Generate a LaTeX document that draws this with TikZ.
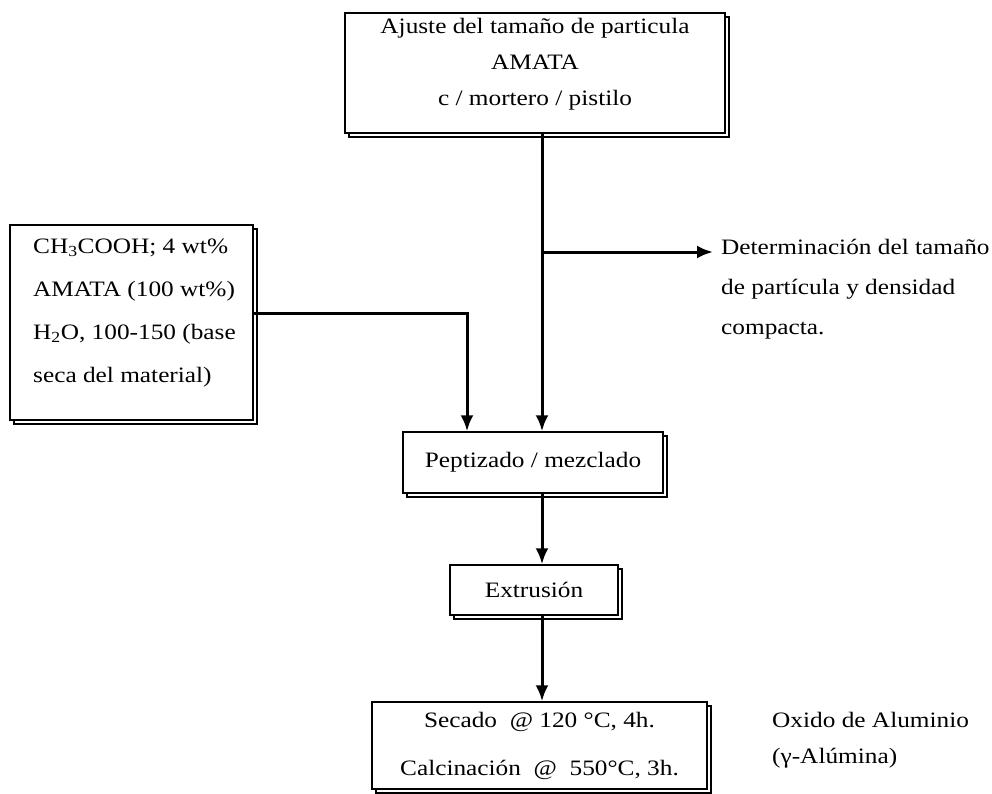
\documentclass[tikz,border=0pt]{standalone}
\usepackage{fontspec}
\setmainfont{Liberation Serif}[FakeStretch=1.15]
\usetikzlibrary{arrows.meta,shadows}
\begin{document}
\begin{tikzpicture}[x=1pt,y=-1pt,
  box/.style={draw=black, line width=1.5pt, fill=white, inner sep=0pt,
    copy shadow={shadow xshift=4pt, shadow yshift=-4pt}},
  txt/.style={font=\fontsize{22}{36}\selectfont, inner sep=0pt},
  conn/.style={line width=3pt, -{Latex[length=16pt,width=13pt]}}]
\useasboundingbox (0,0) rectangle (992,794);
\fill[white] (0,0) rectangle (992,794);

% boxes
\node[box, minimum width=380pt, minimum height=120pt] (top) at (535,73) {};
\node[txt, align=center] (toptxt) at (535,64)
  {Ajuste del tamaño de particula\\AMATA\\c / mortero / pistilo};
\node[box, minimum width=243pt, minimum height=195pt] (left) at (131.5,322.5) {};
\node[txt, font=\fontsize{22}{43}\selectfont, align=left, anchor=west] (lefttxt) at (33,313)
  {CH\textsubscript{3}COOH; 4 wt\%\\AMATA (100 wt\%)\\H\textsubscript{2}O, 100-150 (base\\seca del material)};
\node[box, txt, minimum width=260pt, minimum height=61pt] (pep) at (533,462.5) {Peptizado / mezclado};
\node[box, txt, minimum width=168pt, minimum height=50pt] (ext) at (534,590) {Extrusión};
\node[box, txt, font=\fontsize{22}{48}\selectfont, align=center, minimum width=335pt, minimum height=87pt] (sec) at (539.5,745.5)
  {Secado \ @ 120 °C, 4h.\\Calcinación \ @ \ 550°C, 3h.};

% free texts
\node[txt, font=\fontsize{22}{40}\selectfont, align=left, anchor=west] (det) at (721,289)
  {Determinación del tamaño\\de partícula y densidad\\compacta.};
\node[txt, align=left, anchor=west] (oxido) at (772,740) {Oxido de Aluminio\\(γ-Alúmina)};

% connectors
\coordinate (mainx) at (542,252);
\coordinate (lj) at (467,313);
\draw[conn] (top.south -| mainx) -- (pep.north -| mainx);
\draw[conn, shorten >=8pt] (mainx) -- (det.west |- mainx);
\draw[conn] (left.east |- lj) -- (lj) -- (lj |- pep.north);
\draw[conn] (pep.south -| mainx) -- (ext.north -| mainx);
\draw[conn] (ext.south -| mainx) -- (sec.north -| mainx);
\end{tikzpicture}
\end{document}
